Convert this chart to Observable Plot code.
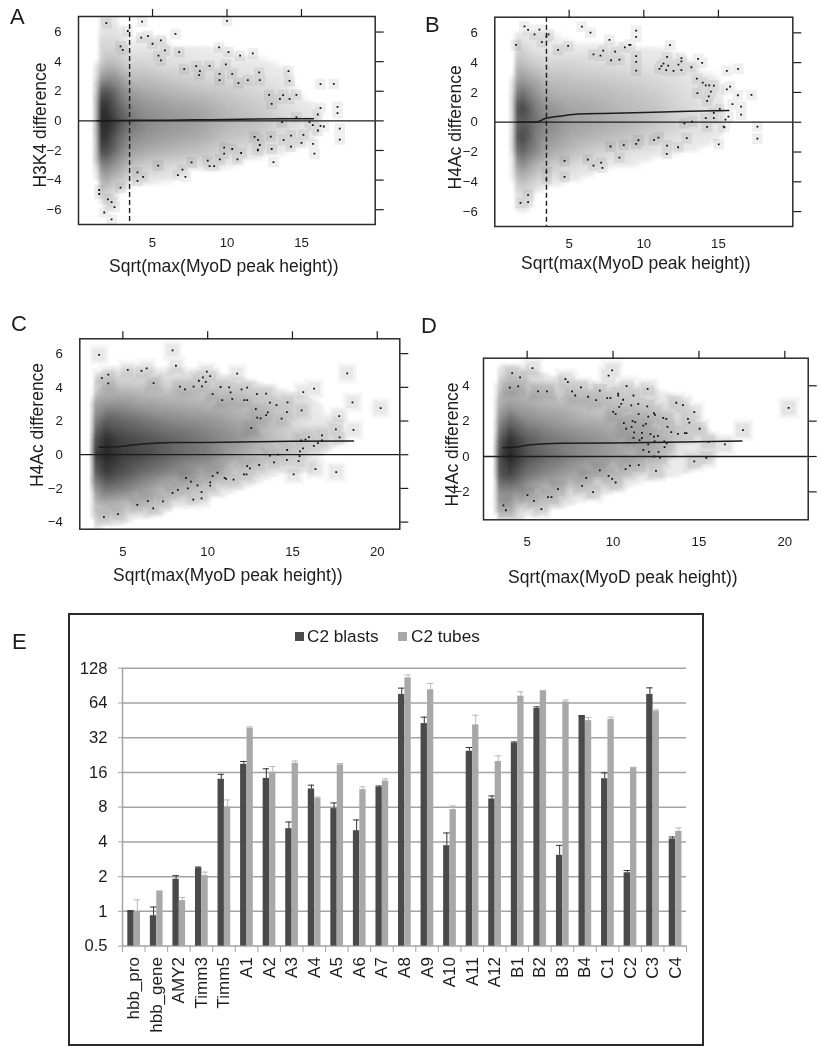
<!DOCTYPE html>
<html><head><meta charset="utf-8">
<script src="https://cdn.jsdelivr.net/npm/d3@7"></script>
<script src="https://cdn.jsdelivr.net/npm/@observablehq/plot@0.6"></script>
<style>
html,body{margin:0;padding:0;background:#fff}
#page{position:relative;width:822px;height:1050px;overflow:hidden;font-family:"Liberation Sans",Arial,sans-serif;color:#1c1c1c}
#page svg{position:absolute;background:transparent;overflow:visible;font-family:"Liberation Sans",Arial,sans-serif}
.letter{position:absolute;font-size:22px;line-height:22px}
#box{position:absolute;left:68px;top:613px;width:632px;height:429px;border:2px solid #2a2a2a;box-sizing:content-box}
.leg{position:absolute;font-size:17.2px;line-height:20px;white-space:nowrap}
.sw{position:absolute;width:9px;height:9px}
</style></head><body><div id="page"></div>
<script>
const xLabel = "Sqrt(max(MyoD peak height))";

// ---- density (grey level 0 = white, 10 = darkest) ----
const densXA = [0,1.1,1.4,1.8,2.4,3,3.6,4.5,6,8,10,12,14,16,17.5,20];
const densYA = [7,6,5,4,3,2,1,0,-1,-2,-3,-4,-5,-6,-7];
const densA = [
 [0,0,0,0,0,0,0,0,0,0,0,0,0,0,0],
 [0,0,0,0,0,0,0,0,0,0,0,0,0,0,0],
 [1.1,1.1,2,2,4,7,9,9.5,9,8,5,3,1.2,0,0],
 [1.2,1.5,2,3,5,8,9.5,10,9.5,8.5,6,4,2,1.1,0],
 [1.1,1.5,2,3,5,7,8,9,8,7,5,3,1.5,1,0],
 [0.5,1.1,1.5,2.5,4,5.5,6.5,7.5,6.5,5.5,4,2.5,0.5,0,0],
 [0,0.8,1.1,2,3,4.5,5.5,6.5,5.5,4.5,3,1.5,0,0,0],
 [0,0.9,1.2,2,3,4,5,5.5,5,4,2.5,1.2,0,0,0],
 [0,0.8,1.1,1.5,2.5,3.5,4.5,5,4.5,3.5,2,1.1,0,0,0],
 [0,0,1,1.3,2,3,4,4.5,4,3,1.5,0,0,0,0],
 [0,0,0.9,1.1,1.8,2.5,3.2,3.5,3,2,1.1,0,0,0,0],
 [0,0,0.7,1.1,1.3,2,2.5,3,2.5,1.5,0.5,0,0,0,0],
 [0,0,0,0.8,1.1,1.3,1.5,2,1.5,1.1,0,0,0,0,0],
 [0,0,0,0,0,0.5,1,1.2,1.1,0,0,0,0,0,0],
 [0,0,0,0,0,0,0,0,0,0,0,0,0,0,0],
 [0,0,0,0,0,0,0,0,0,0,0,0,0,0,0]];
const densXB = [0,1.1,1.4,1.9,2.4,3,3.6,5,7,9,11,13,15,16.5,20];
const densYB = [7,6,5,4,3,2,1,0,-1,-2,-3,-4,-5,-6,-7];
const densB = [
 [0,0,0,0,0,0,0,0,0,0,0,0,0,0,0],
 [0,0,0,0,0,0,0,0,0,0,0,0,0,0,0],
 [0,1.1,2,3,4,5.5,7.5,7,7.5,6,4,2.5,1.2,1,0],
 [0,1.1,2,3,4.5,6.5,8.5,7.5,8.5,7,5,3,1.5,1.1,0],
 [0,1.1,1.5,2.5,4,5.5,7,7,7,6,4,2.5,1.2,1,0],
 [0,1,1.3,2.2,3.5,4.5,5.5,6,5.5,5,3,1.8,0.5,0,0],
 [0,1,1.2,2,3,3.8,5,5.5,5,4,2.5,1.3,0,0,0],
 [0,0.8,1.1,2,2.8,3.5,4.2,4.5,4,3.2,1.8,1,0,0,0],
 [0,0.5,1.1,1.7,2.5,3.2,3.8,4,3.3,2.2,1.1,0.5,0,0,0],
 [0,0,1.1,1.5,2.2,2.8,3.2,3.5,2.8,1.6,1,0,0,0,0],
 [0,0,1,1.3,1.8,2.3,2.7,2.7,2,1.2,0.5,0,0,0,0],
 [0,0,0.5,1.1,1.3,1.6,1.8,1.8,1.3,1,0,0,0,0,0],
 [0,0,0,0.5,1,1.2,1.2,1.2,1.1,0.5,0,0,0,0,0],
 [0,0,0,0,0,0,0,0,0,0,0,0,0,0,0],
 [0,0,0,0,0,0,0,0,0,0,0,0,0,0,0]];
const densXC = [2.4,3,3.4,4,5,6,8,10,12,14,16,18,19,22];
const densYC = [7,6,5,4,3,2,1,0,-1,-2,-3,-4,-5];
const densC = [
 [0,0,0,0,0,0,0,0,0,0,0,0,0],
 [0,0,0,0,0,0,0,0,0,0,0,0,0],
 [0,0,0.5,2,4.5,6,8,9,7.5,5,3,1.5,0],
 [0,0,1,3,5,7.5,9.5,10,9,6.5,3.5,1.2,0],
 [0,0,1.1,3,5,7,8.5,9,8,6,3,1.1,0],
 [0,0,1.1,2.8,4.5,6.5,8,8.5,7,5,2.5,0.5,0],
 [0,0,1.1,2.3,4,5.5,7,7,5.5,3,1.2,0,0],
 [0,0,1,2,3.5,5,6,6,4,1.8,0.5,0,0],
 [0,0,0.5,1.5,3,4,4.8,4,2,1,0,0,0],
 [0,0,0,1,1.8,2.5,3,2.2,1.1,0.5,0,0,0],
 [0,0,0,0.5,1.2,1.3,1.8,1.2,1,0,0,0,0],
 [0,0,0,0,0.5,1,1.1,0.5,0,0,0,0,0],
 [0,0,0,0,0,0,0,0,0,0,0,0,0],
 [0,0,0,0,0,0,0,0,0,0,0,0,0]];
const densXD = [2.4,3,3.4,4,5,6,8,10,12,14,16,17,22];
const densYD = [6,5,4,3,2,1,0,-1,-2,-3,-4];
const densD = [
 [0,0,0,0,0,0,0,0,0,0,0],
 [0,0,0,0,0,0,0,0,0,0,0],
 [0,1.1,2.5,4,5.5,7.5,8.5,8,5.5,3,0],
 [0,1.1,3,4.5,7,9.5,10,8.5,5.5,3,0],
 [0,1,2.5,4,5.5,7.5,8,6.5,4,1.5,0],
 [0,0.5,2,3.5,5,6.5,7,5.5,3,1.1,0],
 [0,0,1.3,3,4,5.5,5.5,4,1.5,0.5,0],
 [0,0,1.1,2,3.5,4.5,4.5,2.5,1,0,0],
 [0,0,1,1.5,3,3.5,3,1.2,0.5,0,0],
 [0,0,0.5,1.1,1.5,1.5,1.1,1,0,0,0],
 [0,0,0,0,0.5,1,1,0.5,0,0,0],
 [0,0,0,0,0,0,0,0,0,0,0],
 [0,0,0,0,0,0,0,0,0,0,0]];

// ---- outlying points ----
const ptsA = [[3.34,6.07],[2.85,5.03],[3,4.8],[4.24,5.62],[4.69,5.73],[5,5.21],[5.56,5.44],[5.83,4.76],[5.4,4.4],[5.56,4.09],[6.54,5.87],[6.79,4.65],[7.13,3.5],[7.93,3.7],[8.18,3.36],[8.13,3.09],[8.83,3.72],[9.47,4.97],[9.5,3.18],[9.5,2.75],[10.1,4.65],[9.92,3.81],[10.35,3.18],[10.88,4.4],[10.77,2.55],[11.4,2.75],[11.73,4.56],[12.16,3.27],[12.2,2.75],[12.83,1.76],[13,1.15],[13.55,1.49],[13.77,1.74],[14.13,3.36],[14.2,2.7],[14.2,1.49],[14.66,1.76],[16.28,2.48],[17.17,2.5],[16.28,0.86],[16.1,0.43],[14.66,0.23],[17.42,0.95],[17.42,0.52],[17.57,-0.52],[17.57,-1.26],[16.5,-0.38],[16.28,-0.34],[16.1,-0.65],[15.76,-0.29],[15.54,-0.09],[13.7,-0.09],[11.85,-1.08],[12.09,-1.29],[12.2,-1.63],[12.07,-1.94],[12.07,-2],[12.94,-1.06],[13,-1.9],[13.12,-2.78],[13.8,-1.29],[14.3,-0.99],[14.3,-1.74],[15.13,-0.95],[15,-1.49],[15.78,-1.56],[15.87,-2.21],[9.81,-1.81],[9.81,-2.21],[9.52,-2.6],[9.14,-3.05],[8.83,-3.05],[8.71,-2.69],[10.35,-1.9],[10.95,-2.17],[10.7,-2.6],[7.62,-2.8],[7.01,-3.3],[7.21,-3.79],[6.7,-3.66],[5.38,-3.02],[4.37,-3.79],[3.99,-3.48],[3.99,-4.06],[2.85,-4.51],[1.42,-4.67],[1.42,-4.94],[2,-5.3],[2.25,-5.49],[2.45,-5.82],[1.76,-6.19],[2.25,-6.66],[10,6.75],[4.3,6.7],[1.9,6.6]];
const ptsB = [[1.43,5.19],[2.01,6.44],[2.25,6.2],[2.68,5.9],[3.01,6.22],[3.17,5.37],[3.48,5.75],[3.62,5.9],[4.26,4.85],[4.93,5.12],[5.85,6.42],[6.43,6.02],[6.63,4.56],[7.1,4.47],[7.28,4.81],[7.7,5.53],[7.81,4.16],[8.08,4.74],[8.37,4.2],[8.73,5.03],[9.02,5.19],[9.11,5.19],[9.49,6.15],[9.49,5.73],[9.49,4.43],[9.49,4.05],[9.49,3.47],[11.05,3.58],[11.18,3.76],[11.32,3.94],[11.5,3.49],[11.56,4.38],[11.63,3.8],[11.76,5.17],[11.99,3.45],[12.32,3.87],[12.52,4.3],[12.52,4.09],[12.52,3.49],[13.19,3.69],[13.55,2.93],[13.64,4.25],[13.91,3.98],[13.59,1.95],[13.95,2.66],[14.15,2.48],[14.38,2.48],[14.69,2.46],[14.49,2.06],[14.35,1.74],[14.24,1.43],[15.56,3.45],[16.32,3.58],[15.56,2.21],[15.78,2.39],[15.94,1.21],[16.3,1.81],[17.21,1.83],[16.52,1.05],[16.52,0.51],[15.09,0.89],[14.69,0.63],[14.69,0.27],[14.15,0.27],[15.67,0.38],[15.47,0.18],[12.72,-0.07],[13.24,0.04],[14.24,-0.31],[15.4,-0.34],[15.35,-0.3],[17.61,-0.29],[17.61,-1.1],[12.88,-1.07],[15.02,-1.48],[12.3,-1.68],[11.56,-1.57],[11.54,-2.13],[10.98,-1.03],[10.69,-1.19],[9.64,-1.21],[9.49,-1.45],[8.66,-1.54],[8.37,-2.37],[7.77,-1.63],[7.14,-2.71],[7.23,-3.06],[6.63,-2.91],[6.25,-2.51],[4.69,-2.6],[4.69,-3.67],[3.48,-3.33],[3.48,-3.83],[2.25,-4.88],[2.25,-5.37],[1.74,-5.41]];
const ptsC = [[3.6,5.93],[3.76,4.55],[4.14,4.75],[4.14,4.23],[5.29,5.04],[6.1,4.98],[6.4,5.12],[6.81,4.25],[7.93,6.19],[8.13,5.28],[8.36,4.04],[8.66,3.88],[9.17,4.04],[9.48,4.39],[9.66,4.06],[9.72,4.59],[9.89,4.33],[9.95,4.93],[10.15,4.67],[10.29,3.6],[10.76,4.02],[10.86,3.24],[11.27,4],[11.35,3.7],[11.45,3.32],[11.74,4.81],[12,3.88],[12.16,3.24],[12.33,3.98],[12.33,3.24],[12.9,3.6],[13.45,3.62],[13.67,3.09],[12.84,2.71],[12.92,2.2],[13.12,2.16],[13.45,2.35],[13.55,2.51],[14.06,2.95],[14.36,2.14],[14.71,3.11],[14.67,2.53],[12.57,1.58],[15.54,2.63],[15.64,3.72],[16.28,3.92],[18.23,4.83],[18.54,3.11],[17.76,2.29],[20.2,2.77],[17.56,1.5],[18.6,1.48],[17.78,1.03],[16.74,1.15],[16.74,0.85],[15.97,1.05],[15.77,0.89],[15.52,0.85],[16.5,0.69],[16.26,0.53],[15.62,0.38],[14.69,0.28],[15.44,0.2],[13.67,-0.06],[14.16,0],[15.42,-0.08],[15.36,-0.38],[14.67,-0.3],[13.92,-0.46],[13.04,-0.61],[12.33,-0.67],[12.49,-0.81],[12.14,-1.17],[12.29,-1.17],[15.07,-1.17],[16.36,-0.85],[17.58,-1.03],[10.58,-1.07],[10.29,-1.27],[11,-1.38],[11.09,-1.44],[11.53,-1.48],[10.15,-1.64],[10.15,-1.84],[8.72,-1.38],[9.01,-1.6],[8.83,-2],[9.4,-1.82],[9.64,-2.22],[9.64,-2.59],[9.15,-2.67],[8.24,-2.08],[7.93,-2.26],[7.36,-2.77],[6.79,-3.18],[6.47,-2.75],[5.85,-2.97],[4.71,-3.52],[3.88,-3.7]];
const ptsD = [[3.62,-2.77],[3.76,-3.04],[4.13,4.72],[3.99,3.89],[4.48,3.96],[4.59,4.47],[5.31,5],[5.64,3.68],[6.15,3.68],[7.23,4.38],[7.37,4.21],[7.62,3.68],[7.8,3.45],[8.13,3.91],[8.55,3.38],[9.02,3.19],[9.23,3.72],[9.74,4.57],[9.95,4.87],[9.66,3.3],[9.85,3.3],[10.3,3.55],[10.3,3.45],[10.59,3.21],[10.48,2.98],[10.36,2.81],[10.79,3.98],[11.19,3.45],[11.06,2.89],[11.47,2.98],[12.01,3.83],[11.99,2.83],[10.01,2.53],[10.15,2.4],[11.49,2.4],[12.05,2.25],[12.38,2.45],[12.44,2.36],[12.92,2.19],[13.1,2.13],[10.63,1.89],[10.77,1.57],[11.08,1.68],[11.14,2],[11.29,1.94],[11.23,1.36],[11.19,1.06],[11.76,1.75],[11.91,1.85],[11.68,1.34],[11.68,1.04],[11.54,0.92],[12.18,1.26],[12.38,1.13],[12.61,1.17],[13.17,1.68],[13.39,1.38],[13.78,1.28],[13.68,3.04],[14.07,2.91],[14.73,2.51],[14.36,2.13],[14.44,1.91],[14.18,1.32],[14.28,1.32],[15.04,1.57],[12.98,0.85],[13.12,0.74],[12.42,0.85],[13,0.53],[12.05,0.68],[11.76,0.38],[12.09,0.26],[12.65,0.26],[12.4,0],[12.73,-0.06],[15.56,0.83],[16.51,0.68],[17.56,1.49],[20.22,2.75],[15.43,-0.08],[14.73,-0.28],[12.5,-0.81],[11.5,-0.49],[10.98,-0.51],[10.73,-0.72],[9.23,-0.79],[8.44,-1.21],[9.74,-1.09],[9.95,-1.26],[10.15,-1.47],[8.2,-1.66],[8.84,-2.02],[6.79,-1.85],[5.02,-2.19],[6.22,-2.3],[6.42,-2.3],[5.39,-2.51],[5.83,-2.98]];

// ---- fitted curves ----
const curveA = [[1.3,0],[3,0.03],[6,0.05],[9,0.08],[12,0.12],[15.8,0.15]];
const curveB = [[1.5,0],[2.8,0.02],[3.4,0.25],[4.5,0.42],[5.6,0.56],[8,0.6],[10,0.65],[13,0.74],[15.7,0.78]];
const curveC = [[3.6,0.45],[4.5,0.47],[6,0.62],[8,0.72],[11,0.74],[15,0.8],[18.6,0.82]];
const curveD = [[3.6,0.5],[4.2,0.52],[5.2,0.66],[7,0.75],[10,0.76],[14,0.82],[17.5,0.88]];

// ---- bar chart ----
const categories = ["hbb_pro","hbb_gene","AMY2","Timm3","Timm5","A1","A2","A3","A4","A5","A6","A7","A8","A9","A10","A11","A12","B1","B2","B3","B4","C1","C2","C3","C4"];
const blasts = [1.01,0.917,1.9,2.37,13.96,18.8,14.2,5.21,11.5,7.77,5,11.9,75.8,42.4,3.71,24.4,9.42,28.7,57.3,3.06,49.5,14.1,2.16,75.8,4.24];
const blastsTop = [1.01,1.09,2.04,2.42,15.4,19.9,17.2,5.95,12.4,8.7,6.2,12.2,86,48.2,4.78,26.3,10,29.4,59.2,3.73,49.5,15.85,2.26,86.5,4.41];
const tubes = [0.99,1.5,1.24,2.04,8.04,38.7,16.06,19.2,9.55,18.6,11.35,13.5,105.6,83.2,7.62,41.3,19.87,73.3,82,65.4,45,46,17.7,54.3,4.94];
const tubesTop = [1.26,1.5,1.32,2.19,9.24,39.7,18,20.1,9.8,19.1,12,14.1,112,94.3,8.2,50.1,22.3,79.9,82,68,47.9,48.2,17.7,55.8,5.28];
const log2Ticks = [0.5,1,2,4,8,16,32,64,128];

const grey = {type:"linear", domain:[0,0.88,1,10], range:["#ffffff","#ffffff","#ececec","#262626"]};
const ink = "#1c1c1c";
const page = document.getElementById("page");

function panel(o){
  const grid = [];
  o.dx.forEach((x,i)=>o.dy.forEach((y,j)=>grid.push({x,y,v:o.dens[i][j]})));
  const marks = [];
  for (const h of o.halo) marks.push(Plot.dot(o.pts,{x:"0",y:"1",symbol:"square",r:h.r,fill:h.f,clip:"frame"}));
  marks.push(Plot.raster(grid,{x:"x",y:"y",fill:"v",interpolate:"barycentric",pixelSize:o.cell,mixBlendMode:"multiply"}));
  marks.push(
    Plot.dot(o.pts,{x:"0",y:"1",symbol:"square",r:1,fill:"#111",clip:"frame"}),
    Plot.ruleY([0],{stroke:ink,strokeWidth:1.3}),
    Plot.line(o.curve,{x:"0",y:"1",stroke:ink,strokeWidth:1.5,curve:"monotone-x"})
  );
  if (o.cut) marks.push(Plot.ruleX([o.cut],{stroke:ink,strokeWidth:1.4,strokeDasharray:"5,3"}));
  marks.push(
    Plot.frame({stroke:"#2a2a2a",strokeWidth:1.5}),
    Plot.axisX({anchor:"top",ticks:o.xt,tickSize:8,tickFormat:()=>"",label:null,stroke:ink,strokeWidth:1.2}),
    Plot.axisX({anchor:"bottom",ticks:o.xt,tickSize:0,tickPadding:o.xpad,fontSize:13.2,label:null,color:ink}),
    Plot.axisY({anchor:"right",ticks:o.yt,tickSize:8,tickFormat:()=>"",label:null,stroke:ink,strokeWidth:1.2}),
    Plot.axisY({anchor:"left",ticks:o.yt,tickSize:0,tickPadding:o.ypad,fontSize:13.2,label:null,color:ink}),
    Plot.text([xLabel],{text:d=>d,frameAnchor:"bottom",dx:o.xlx,dy:o.xly,fontSize:17.5,fill:ink}),
    Plot.text([o.yLabel],{text:d=>d,frameAnchor:"left",textAnchor:"middle",rotate:-90,dx:-o.ylx,dy:o.yly||0,fontSize:17.5,fill:ink})
  );
  const svg = Plot.plot({
    width:o.w,height:o.h,
    marginLeft:o.l-o.left,marginRight:o.left+o.w-o.r,marginTop:o.t-o.top,marginBottom:o.top+o.h-o.b,
    x:{domain:o.xd},y:{domain:o.yd},color:grey,
    style:{color:ink,background:"transparent"},
    marks
  });
  svg.style.left=o.left+"px";svg.style.top=o.top+"px";
  page.appendChild(svg);
}
const tile = [{r:6,f:"#efefef"}];
const blurC = [{r:11.5,f:"#f8f8f8"},{r:9,f:"#f1f1f1"},{r:6.5,f:"#e8e8e8"}];
const blurD = [{r:12.5,f:"#f8f8f8"},{r:10,f:"#f0f0f0"},{r:7.5,f:"#e4e4e4"}];

panel({left:0,top:0,w:410,h:290,l:78,r:374.7,t:16,b:224,xd:[0.03,19.95],yd:[-7,7.05],xt:[5,10,15],yt:[-6,-4,-2,0,2,4,6],
  dx:densXA,dy:densYA,dens:densA,pts:ptsA,curve:curveA,cut:3.46,cell:5,halo:tile,yLabel:"H3K4 difference",xpad:13,ypad:17,xlx:-3,xly:47,ylx:38,yly:4.5});
panel({left:410,top:0,w:412,h:290,l:494.3,r:792.3,t:16.7,b:226,xd:[0.02,19.98],yd:[-7,7.05],xt:[5,10,15],yt:[-6,-4,-2,0,2,4,6],
  dx:densXB,dy:densYB,dens:densB,pts:ptsB,curve:curveB,cut:3.48,cell:5,halo:tile,yLabel:"H4Ac difference",xpad:12,ypad:17,xlx:-8,xly:42,ylx:39,yly:5.5});
panel({left:0,top:310,w:410,h:280,l:79.3,r:399.3,t:338.3,b:528.7,xd:[2.46,21.33],yd:[-4.42,6.88],xt:[5,10,15,20],yt:[-4,-2,0,2,4,6],
  dx:densXC,dy:densYC,dens:densC,pts:ptsC,curve:curveC,cut:null,cell:3.5,halo:blurC,yLabel:"H4Ac difference",xpad:17,ypad:17,xlx:-12,xly:52,ylx:42,yly:-9});
panel({left:410,top:310,w:412,h:280,l:483,r:807.7,t:357.7,b:519.3,xd:[2.46,21.36],yd:[-3.58,5.56],xt:[5,10,15,20],yt:[-2,0,2,4],
  dx:densXD,dy:densYD,dens:densD,pts:ptsD,curve:curveD,cut:null,cell:3.5,halo:blurD,yLabel:"H4Ac difference",xpad:17,ypad:14,xlx:-23,xly:63,ylx:31,yly:5.5});

// panel letters
[["A",10,6],["B",425,14],["C",11,313],["D",421,315],["E",12,631]].forEach(([t,x,y])=>{
  const d=document.createElement("div");d.className="letter";d.textContent=t;d.style.left=x+"px";d.style.top=y+"px";page.appendChild(d);
});

// panel E
const box=document.createElement("div");box.id="box";page.appendChild(box);
const dark="#4a4a4a",light="#a8a8a8";
const rows=categories.map((c,i)=>({c,b:blasts[i],bt:blastsTop[i],t:tubes[i],tt:tubesTop[i]}));
const base=()=>0.5, below=()=>0.44;
const halfBand=11.27;
const svgE=Plot.plot({
  width:634,height:431,marginLeft:54,marginRight:16,marginTop:54.7,marginBottom:98.4,
  x:{domain:categories,padding:0,round:false},
  y:{type:"log",base:2,domain:[0.5,128]},
  style:{color:ink,background:"transparent"},
  marks:[
    Plot.ruleY(log2Ticks,{stroke:"#a3a3a3",strokeWidth:1.5}),
    Plot.barY(rows,{x:"c",y1:base,y2:"b",fill:dark,insetLeft:5.3,insetRight:10.9}),
    Plot.barY(rows,{x:"c",y1:base,y2:"t",fill:light,insetLeft:11.7,insetRight:4.55}),
    Plot.ruleX(rows,{x:"c",y1:"b",y2:"bt",dx:-2.77,stroke:"#333",strokeWidth:1}),
    Plot.tickY(rows,{x:"c",y:"bt",insetLeft:5.3,insetRight:10.9,stroke:"#333",strokeWidth:1}),
    Plot.ruleX(rows,{x:"c",y1:"t",y2:"tt",dx:3.56,stroke:"#b9b9b9",strokeWidth:1}),
    Plot.tickY(rows,{x:"c",y:"tt",insetLeft:11.7,insetRight:4.55,stroke:"#b9b9b9",strokeWidth:1}),
    Plot.ruleX(categories,{x:d=>d,y1:base,y2:below,dx:-halfBand,stroke:"#a3a3a3",strokeWidth:1}),
    Plot.ruleX(categories.slice(-1),{x:d=>d,y1:base,y2:below,dx:halfBand,stroke:"#a3a3a3",strokeWidth:1}),
    Plot.ruleX(categories.slice(0,1),{x:d=>d,y1:base,y2:()=>128,dx:-halfBand,stroke:"#a3a3a3",strokeWidth:1.5}),
    Plot.axisY({ticks:log2Ticks,tickFormat:d=>String(d),tickSize:4,tickPadding:11,fontSize:16.6,label:null,stroke:"#a3a3a3",color:ink}),
    Plot.axisX({anchor:"bottom",tickRotate:-90,tickSize:0,tickPadding:11,fontSize:17,label:null,color:ink})
  ]
});
svgE.style.left="68px";svgE.style.top="613px";page.appendChild(svgE);

// legend
[[294.7,dark,"C2 blasts",307],[397.7,light,"C2 tubes",411]].forEach(([x,col,t,tx])=>{
  const s=document.createElement("div");s.className="sw";s.style.cssText+=`left:${x}px;top:631.7px;background:${col}`;page.appendChild(s);
  const l=document.createElement("div");l.className="leg";l.textContent=t;l.style.left=tx+"px";l.style.top="626px";page.appendChild(l);
});
</script></body></html>
